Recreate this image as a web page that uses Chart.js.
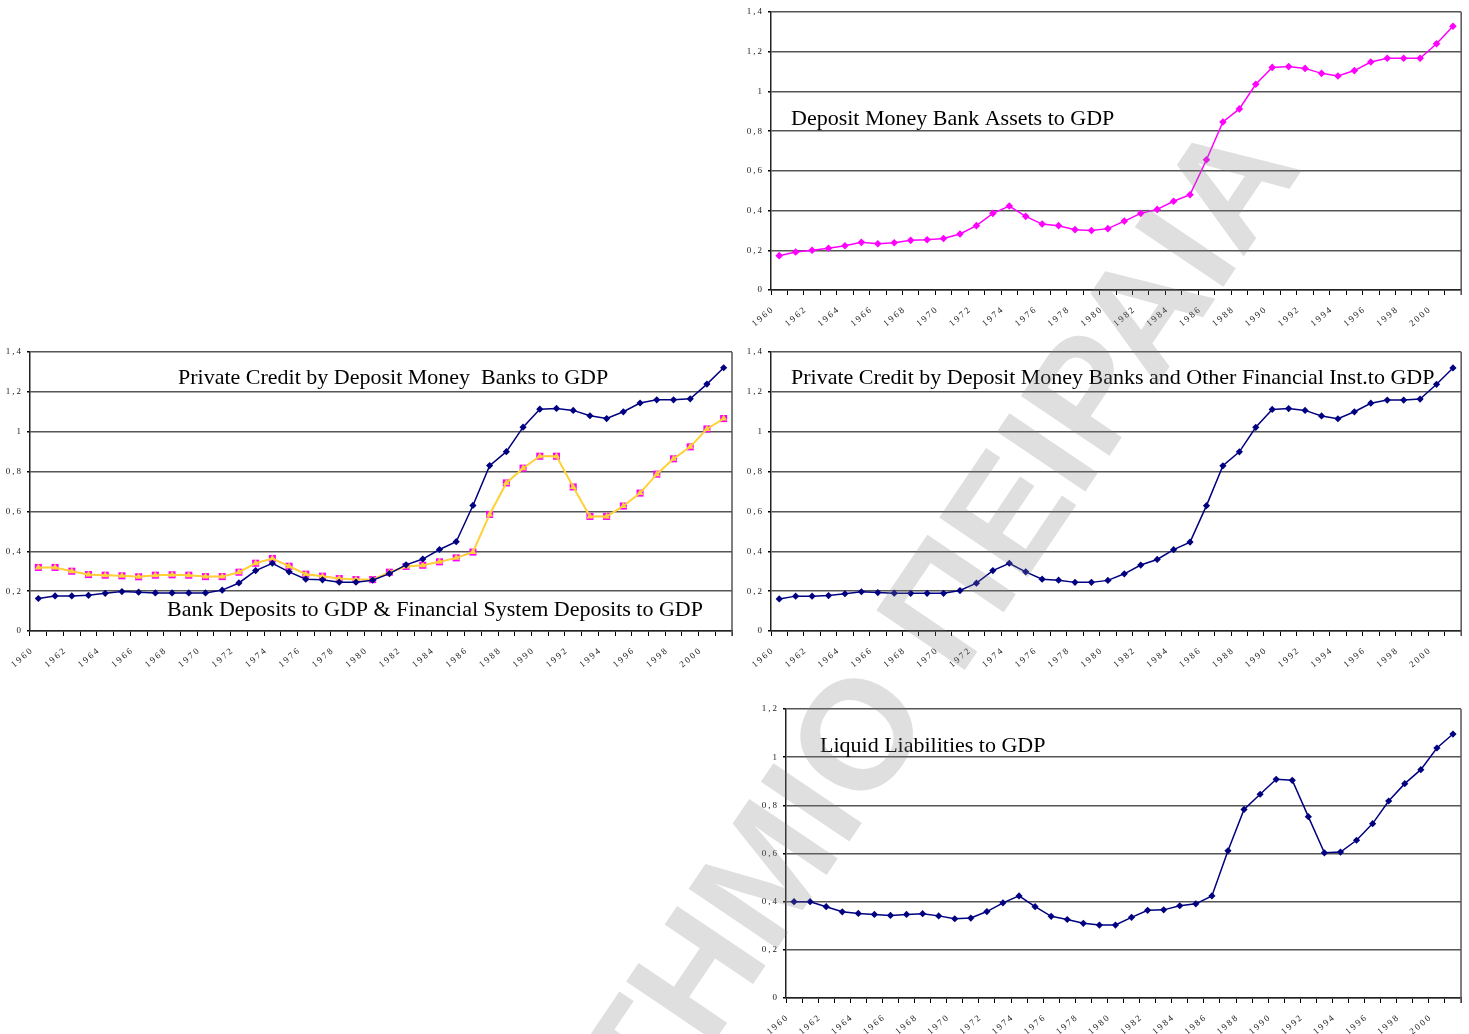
<!DOCTYPE html>
<html>
<head>
<meta charset="utf-8">
<title>Financial depth indicators 1960-2001</title>
<script src="https://cdn.jsdelivr.net/npm/chart.js@4.4.0/dist/chart.umd.min.js"></script>
<style>
  html, body { margin: 0; padding: 0; background: #fff; }
  body { width: 1469px; height: 1034px; position: relative; overflow: hidden; }
  .box { position: absolute; }
  #mark { position: absolute; left: 0; top: 0; pointer-events: none; z-index: 10; }
</style>
</head>
<body>
<div class="box" style="left:730px;top:0;width:739px;height:335px"><canvas id="assetsChart"></canvas></div>
<div class="box" style="left:0;top:340px;width:740px;height:335px"><canvas id="creditDepositsChart"></canvas></div>
<div class="box" style="left:730px;top:340px;width:739px;height:335px"><canvas id="creditOfiChart"></canvas></div>
<div class="box" style="left:730px;top:697px;width:739px;height:337px"><canvas id="liquidChart"></canvas></div>
<canvas id="mark" width="1469" height="1034"></canvas>

<script>
// Years on the category axis
const years = ['1960','1961','1962','1963','1964','1965','1966','1967','1968','1969',
  '1970','1971','1972','1973','1974','1975','1976','1977','1978','1979',
  '1980','1981','1982','1983','1984','1985','1986','1987','1988','1989',
  '1990','1991','1992','1993','1994','1995','1996','1997','1998','1999',
  '2000','2001'];

// Only every second year gets a label
const shownYears = ['1960','1962','1964','1966','1968','1970','1972','1974','1976','1978',
  '1980','1982','1984','1986','1988','1990','1992','1994','1996','1998','2000'];

// Ratios to GDP
const dmbAssets = [0.173,0.191,0.200,0.210,0.223,0.240,0.233,0.238,0.250,0.253,
  0.259,0.282,0.324,0.386,0.423,0.371,0.332,0.324,0.304,0.300,
  0.309,0.347,0.386,0.406,0.447,0.480,0.656,0.846,0.912,1.036,
  1.121,1.125,1.116,1.091,1.078,1.105,1.148,1.167,1.167,1.167,
  1.240,1.328];

const privateCreditDmb = [0.163,0.176,0.176,0.179,0.189,0.198,0.195,0.191,0.191,0.191,
  0.191,0.205,0.241,0.303,0.340,0.297,0.260,0.257,0.245,0.245,
  0.255,0.288,0.332,0.361,0.409,0.448,0.630,0.830,0.900,1.023,
  1.113,1.117,1.107,1.080,1.066,1.100,1.144,1.160,1.160,1.165,
  1.239,1.321];

const bankDeposits = [0.319,0.319,0.300,0.283,0.280,0.277,0.272,0.280,0.282,0.280,
  0.273,0.273,0.295,0.340,0.364,0.325,0.285,0.275,0.263,0.258,
  0.258,0.295,0.324,0.330,0.347,0.367,0.396,0.585,0.743,0.817,
  0.877,0.877,0.723,0.575,0.575,0.627,0.692,0.787,0.864,0.924,
  1.014,1.066];

const finSystemDeposits = [0.319,0.319,0.300,0.283,0.280,0.277,0.272,0.280,0.282,0.280,
  0.273,0.273,0.295,0.340,0.364,0.325,0.285,0.275,0.263,0.258,
  0.258,0.295,0.324,0.330,0.347,0.367,0.396,0.585,0.743,0.817,
  0.877,0.877,0.723,0.575,0.575,0.627,0.692,0.787,0.864,0.924,
  1.014,1.066];

const privateCreditDmbOfi = [0.161,0.175,0.175,0.178,0.187,0.197,0.193,0.190,0.189,0.189,
  0.189,0.203,0.240,0.303,0.340,0.297,0.260,0.255,0.244,0.244,
  0.254,0.287,0.331,0.359,0.408,0.446,0.629,0.829,0.899,1.022,
  1.112,1.116,1.107,1.079,1.065,1.100,1.143,1.159,1.159,1.164,
  1.238,1.320];

const liquidLiabilities = [0.400,0.400,0.379,0.358,0.351,0.347,0.343,0.347,0.350,0.341,
  0.329,0.332,0.359,0.395,0.424,0.379,0.339,0.326,0.310,0.303,
  0.303,0.335,0.364,0.366,0.383,0.391,0.424,0.611,0.783,0.846,
  0.908,0.904,0.753,0.603,0.606,0.655,0.724,0.818,0.890,0.948,
  1.038,1.096];

const NAVY = '#000080';
const MAGENTA = '#FF00FF';
const YELLOW = '#FFD335';
const smallFont = { family: '"Liberation Serif", "Times New Roman", serif', size: 9 };

// Decimal comma, as on the axis: 0 / 0,2 / ... / 1 / 1,2
function fmtTick(v) {
  return String(Math.round(v * 10) / 10).replace('.', ',');
}

function lineSet(label, data, color, style, radius, order, width) {
  return {
    label: label,
    data: data,
    borderColor: color,
    backgroundColor: color,
    borderWidth: width || 1.5,
    pointStyle: style,
    pointRadius: radius,
    pointBorderWidth: 0,
    pointBackgroundColor: color,
    tension: 0,
    order: order
  };
}

// Right edge of the plot box, spaced tick labels and the in-plot captions
const frame = {
  id: 'frame',
  beforeDraw(chart) {
    chart.ctx.letterSpacing = '2px';
  },
  afterDraw(chart, args, opts) {
    const ctx = chart.ctx;
    const a = chart.chartArea;
    ctx.save();
    ctx.strokeStyle = '#555';
    ctx.lineWidth = 1.5;
    ctx.beginPath();
    ctx.moveTo(a.right, a.top);
    ctx.lineTo(a.right, a.bottom + 5);
    ctx.stroke();

    ctx.letterSpacing = '0px';
    ctx.font = '22px "Liberation Serif", "Times New Roman", serif';
    ctx.fillStyle = '#000';
    ctx.textBaseline = 'middle';
    (opts.titles || []).forEach(t => ctx.fillText(t.text, t.x, t.y));
    ctx.restore();
  }
};

function makeChart(id, datasets, yMax, yWidth, xHeight, padRight, titles) {
  const ctx = document.getElementById(id).getContext('2d');
  return new Chart(ctx, {
    type: 'line',
    data: { labels: years, datasets: datasets },
    options: {
      responsive: true,
      maintainAspectRatio: false,
      animation: false,
      devicePixelRatio: 1,
      layout: { padding: { top: 12, right: padRight, bottom: 0, left: 0 } },
      plugins: {
        legend: { display: false },
        tooltip: { enabled: false },
        frame: { titles: titles }
      },
      scales: {
        x: {
          offset: true,
          grid: {
            display: true,
            drawOnChartArea: false,
            drawTicks: true,
            tickLength: 5,
            offset: true,
            color: '#000',
            lineWidth: 1
          },
          border: { display: true, color: '#222', width: 1.5 },
          ticks: {
            autoSkip: false,
            minRotation: 40,
            maxRotation: 40,
            padding: 9,
            labelOffset: -6,
            color: '#222',
            font: smallFont,
            callback: function(value, index) {
              const y = years[index];
              return shownYears.includes(y) ? y : '';
            }
          },
          afterFit: function(scale) { scale.height = xHeight; }
        },
        y: {
          min: 0,
          max: yMax,
          grid: {
            color: '#555',
            lineWidth: 1.5,
            drawTicks: true,
            tickLength: 3,
            tickColor: '#000'
          },
          border: { display: true, color: '#222', width: 1.5 },
          ticks: {
            stepSize: 0.2,
            padding: 4,
            color: '#222',
            font: smallFont,
            callback: fmtTick
          },
          afterFit: function(scale) { scale.width = yWidth; }
        }
      }
    },
    plugins: [frame]
  });
}

makeChart('assetsChart',
  [lineSet('Deposit Money Bank Assets to GDP', dmbAssets, MAGENTA, 'rectRot', 3.8, 0)],
  1.4, 41, 45, 7,
  [{ text: 'Deposit Money Bank Assets to GDP', x: 61, y: 119 }]);

makeChart('creditDepositsChart',
  [
    lineSet('Private Credit by Deposit Money Banks to GDP', privateCreditDmb, NAVY, 'rectRot', 3.6, 0),
    lineSet('Financial System Deposits to GDP', finSystemDeposits, YELLOW, 'triangle', 4, 1, 2),
    lineSet('Bank Deposits to GDP', bankDeposits, MAGENTA, 'rect', 5, 2, 1)
  ],
  1.4, 30, 44, 8,
  [
    { text: 'Private Credit by Deposit Money  Banks to GDP', x: 178, y: 38 },
    { text: 'Bank Deposits to GDP & Financial System Deposits to GDP', x: 167, y: 270 }
  ]);

makeChart('creditOfiChart',
  [lineSet('Private Credit by Deposit Money Banks and Other Financial Inst.to GDP', privateCreditDmbOfi, NAVY, 'rectRot', 3.6, 0)],
  1.4, 41, 44, 7,
  [{ text: 'Private Credit by Deposit Money Banks and Other Financial Inst.to GDP', x: 61, y: 38 }]);

makeChart('liquidChart',
  [lineSet('Liquid Liabilities to GDP', liquidLiabilities, NAVY, 'rectRot', 3.6, 0)],
  1.2, 56, 36, 7,
  [{ text: 'Liquid Liabilities to GDP', x: 90, y: 49 }]);

// Translucent diagonal stamp laid over the whole page
function drawStamp() {
  const c = document.getElementById('mark');
  const ctx = c.getContext('2d');
  const size = 155;
  ctx.font = 'bold ' + size + 'px "Liberation Sans", Arial, sans-serif';
  const lead = ctx.measureText('ΠΑΝΕΠΙΣΤΗΜΙ').width + ctx.measureText('Ο').width / 2;
  ctx.translate(855, 733);
  ctx.rotate(-56 * Math.PI / 180);
  ctx.fillStyle = 'rgba(128,128,128,0.25)';
  ctx.fillText('ΠΑΝΕΠΙΣΤΗΜΙΟ ΠΕΙΡΑΙΑ', -lead, size * 0.36);
}
drawStamp();
</script>
</body>
</html>
